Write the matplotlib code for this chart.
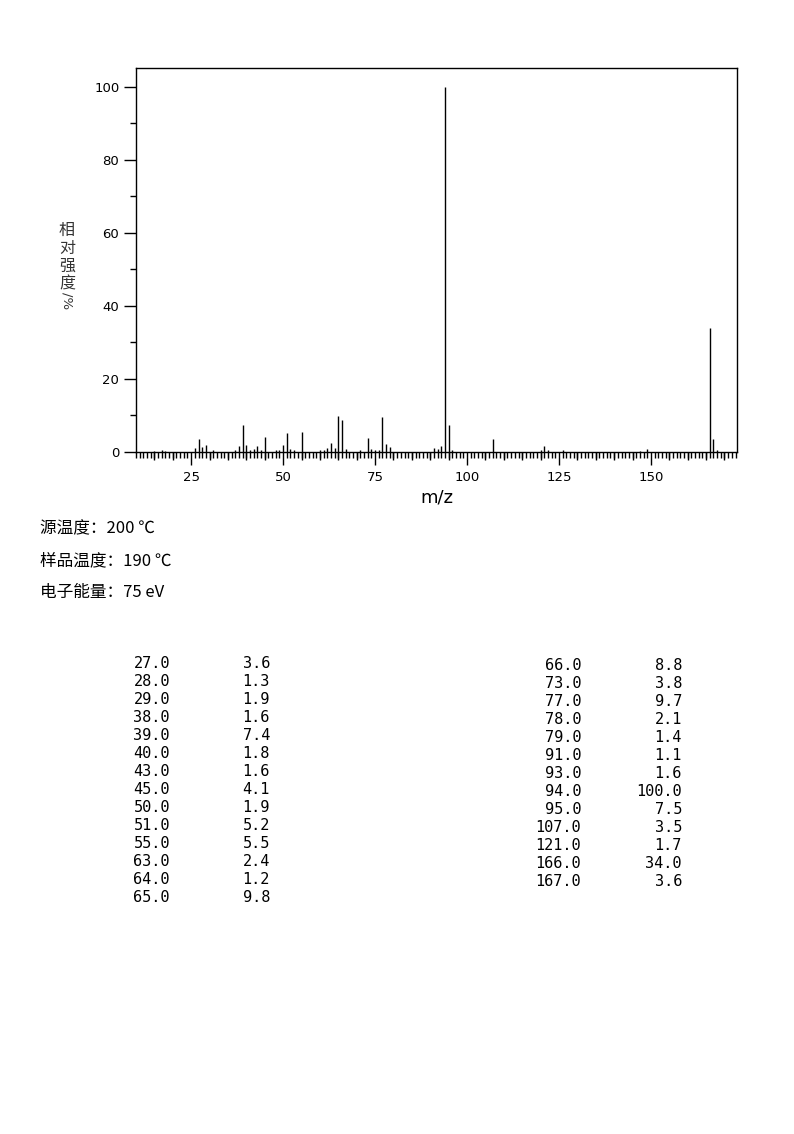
import matplotlib
matplotlib.use("Agg")
import matplotlib.pyplot as plt
from matplotlib.ticker import MultipleLocator, FixedLocator

plt.rcParams['font.family'] = ['DejaVu Sans']

# Spectrum peaks (m/z, relative intensity %)
mz = [15, 17, 18, 26, 27, 28, 29, 31, 37, 38, 39, 40, 41, 42, 43, 44, 45,
      48, 49, 50, 51, 52, 53, 55, 60, 61, 62, 63, 64, 65, 66, 67, 71, 73,
      74, 75, 76, 77, 78, 79, 91, 92, 93, 94, 95, 96, 107, 120, 121, 122,
      126, 147, 149, 166, 167, 168]
intensity = [0.4, 0.5, 0.4, 1.0, 3.6, 1.3, 1.9, 0.6, 0.5, 1.6, 7.4, 1.8, 0.6,
             0.9, 1.6, 0.6, 4.1, 0.5, 0.5, 1.9, 5.2, 0.7, 0.6, 5.5, 0.5, 0.6,
             1.0, 2.4, 1.2, 9.8, 8.8, 0.7, 0.5, 3.8, 0.8, 0.6, 0.6, 9.7, 2.1,
             1.4, 1.1, 0.8, 1.6, 100.0, 7.5, 0.5, 3.5, 0.6, 1.7, 0.6, 0.5,
             0.4, 0.8, 34.0, 3.6, 0.6]

# Peak table shown below the plot
left_mz = ["27.0", "28.0", "29.0", "38.0", "39.0", "40.0", "43.0", "45.0",
           "50.0", "51.0", "55.0", "63.0", "64.0", "65.0"]
left_int = ["3.6", "1.3", "1.9", "1.6", "7.4", "1.8", "1.6", "4.1",
            "1.9", "5.2", "5.5", "2.4", "1.2", "9.8"]
right_mz = ["66.0", "73.0", "77.0", "78.0", "79.0", "91.0", "93.0", "94.0",
            "95.0", "107.0", "121.0", "166.0", "167.0"]
right_int = ["8.8", "3.8", "9.7", "2.1", "1.4", "1.1", "1.6", "100.0",
             "7.5", "3.5", "1.7", "34.0", "3.6"]

info_lines = ["源温度：200 ℃", "样品温度：190 ℃", "电子能量：75 eV"]
ylabel_chars = "相对强度"

W, H = 794, 1134
fig = plt.figure(figsize=(W / 100, H / 100), dpi=100)


def fx(px):
    return px / W


def fy(py):
    return 1 - py / H


ax = fig.add_axes([fx(136), fy(452), fx(737) - fx(136), fy(68) - fy(452)])
ax.vlines(mz, 0, intensity, colors='black', linewidth=1.0)
ax.set_xlim(10, 173.4)
ax.set_ylim(0, 105.2)

for s in ax.spines.values():
    s.set_linewidth(1.0)

ax.xaxis.set_major_locator(FixedLocator([25, 50, 75, 100, 125, 150]))
ax.xaxis.set_minor_locator(MultipleLocator(1))
ax.yaxis.set_major_locator(MultipleLocator(20))
ax.yaxis.set_minor_locator(MultipleLocator(10))
ax.tick_params(axis='x', which='major', direction='out', length=9, width=1,
               labelsize=9.5, pad=5)
ax.tick_params(axis='x', which='minor', direction='out', length=4, width=1)
ax.tick_params(axis='y', which='major', direction='out', length=9, width=1,
               labelsize=9.5, pad=3)
ax.tick_params(axis='y', which='minor', direction='out', length=4, width=1)

# medium ticks every 5
sec = ax.secondary_xaxis('bottom')
sec.set_xticks([v for v in range(15, 175, 5) if v % 25 != 0])
sec.tick_params(length=6, width=1, labelbottom=False)
sec.spines['bottom'].set_visible(False)

ax.set_xlabel("m/z", fontsize=13, labelpad=3)

# y label, stacked characters
for i, ch in enumerate(ylabel_chars):
    fig.text(fx(67), fy(230 + 18 * i), ch, family=['Noto Sans CJK SC', 'DejaVu Sans'],
             fontsize=11.5, ha='center', va='center', color='#333333')
fig.text(fx(67), fy(301), "/%", fontsize=9.5, rotation=-90, ha='center', va='center',
         color='#333333')

# instrument info
for i, line in enumerate(info_lines):
    fig.text(fx(40), fy(529 + 31.5 * i), line,
             family=['Noto Sans CJK SC', 'DejaVu Sans'], fontsize=12,
             ha='left', va='center', color='black')

# peak table
mono = 'DejaVu Sans Mono'
for i, (m, v) in enumerate(zip(left_mz, left_int)):
    y = fy(664 + 18 * i)
    fig.text(fx(170), y, m, family=mono, fontsize=11, ha='right', va='center')
    fig.text(fx(270), y, v, family=mono, fontsize=11, ha='right', va='center')
for i, (m, v) in enumerate(zip(right_mz, right_int)):
    y = fy(665 + 18 * i)
    fig.text(fx(581), y, m, family=mono, fontsize=11, ha='right', va='center')
    fig.text(fx(682), y, v, family=mono, fontsize=11, ha='right', va='center')

fig.savefig("out.png", dpi=100)
